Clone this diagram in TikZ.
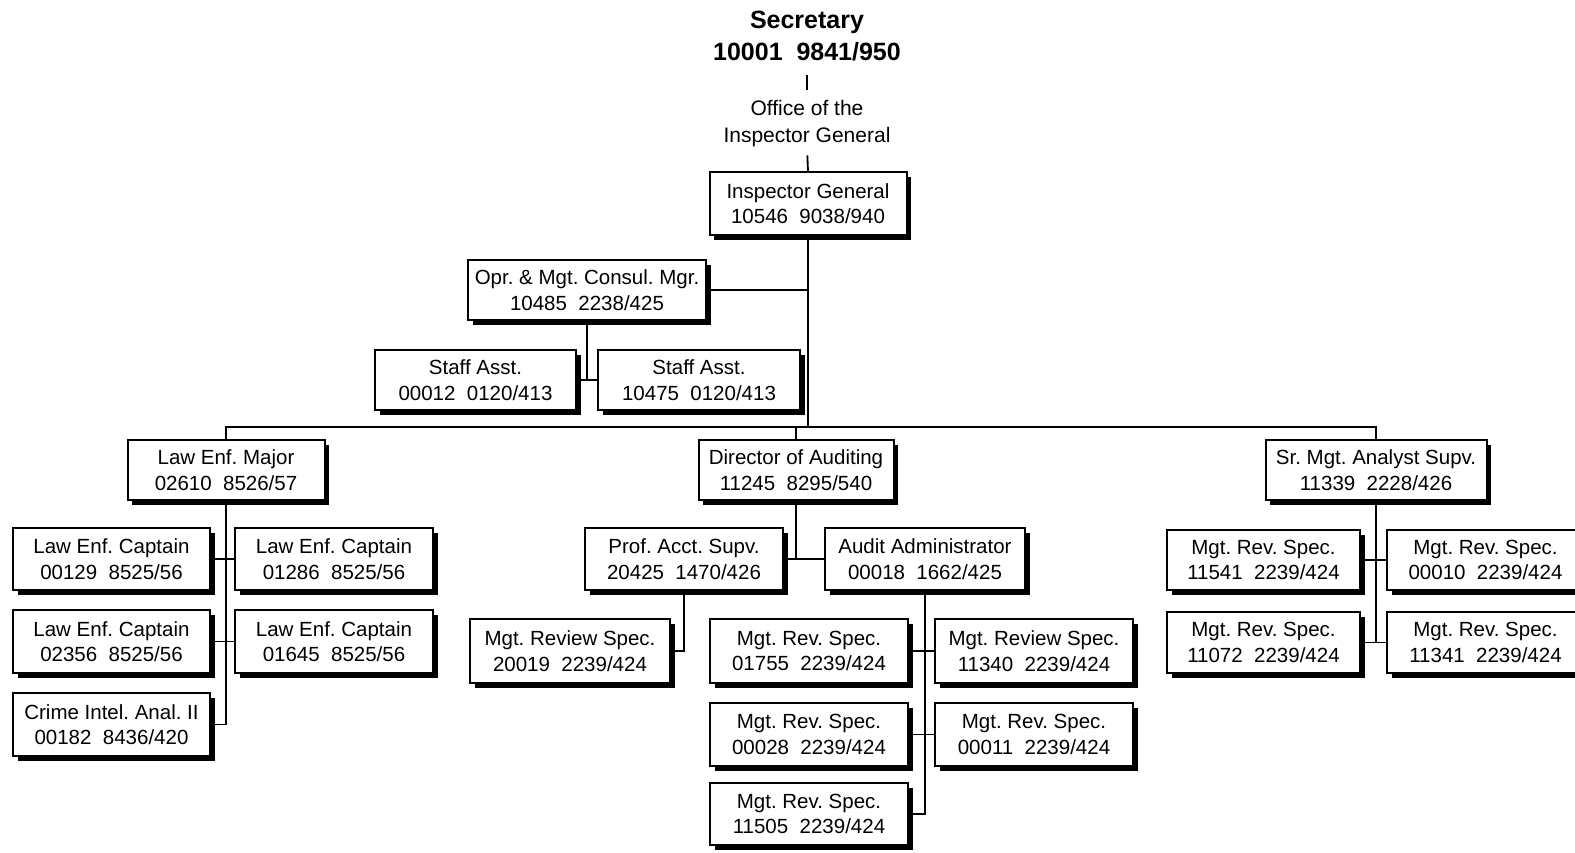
\documentclass[tikz,border=0pt]{standalone}
\usepackage{fontspec}
\setmainfont{Liberation Sans}
\usetikzlibrary{shadows}
\frenchspacing
\begin{document}
\begin{tikzpicture}[x=1pt,y=-1pt,
  post/.style={draw=black, line width=2pt, fill=white,
    minimum width=197pt, minimum height=62pt, inner sep=0pt,
    align=center, font=\frenchspacing\fontsize{20.5}{25.5}\selectfont,
    drop shadow={shadow xshift=4.5pt, shadow yshift=-4.5pt, fill=black, opacity=1}},
  link/.style={line width=1.8pt, draw=black},
  caption/.style={align=center, inner sep=0pt}]

\useasboundingbox (0,0) rectangle (1575,852);
\fill[white] (0,0) rectangle (1575,852);
\clip (0,0) rectangle (1575,852);

% heading
\node[caption, font=\bfseries\fontsize{25}{32}\selectfont] (sec) at (807,36) {Secretary\\10001\ \ 9841/950};
\node[caption, font=\fontsize{21}{27}\selectfont] (oig) at (807,124) {Office of the\\Inspector General};

% top of the office
\node[post, minimum height=63pt] (ig) at (808,203.5) {Inspector General\\10546\ \ 9038/940};
\node[post, minimum width=238pt, minimum height=60pt] (opr) at (587,290) {Opr. \& Mgt. Consul. Mgr.\\10485\ \ 2238/425};
\node[post, minimum width=201pt, minimum height=60pt] (st1) at (475.5,380) {Staff Asst.\\00012\ \ 0120/413};
\node[post, minimum width=202pt, minimum height=60pt] (st2) at (699,380) {Staff Asst.\\10475\ \ 0120/413};

% division heads
\node[post, minimum height=60pt] (maj) at (226,470) {Law Enf. Major\\02610\ \ 8526/57};
\node[post, minimum width=195pt, minimum height=60pt] (dir) at (796,470) {Director of Auditing\\11245\ \ 8295/540};
\node[post, minimum width=221pt, minimum height=60pt] (sma) at (1376,470) {Sr. Mgt. Analyst Supv.\\11339\ \ 2228/426};

% law enforcement
\node[post] (lc1) at (111.5,559) {Law Enf. Captain\\00129\ \ 8525/56};
\node[post, minimum width=198pt] (lc2) at (334,559) {Law Enf. Captain\\01286\ \ 8525/56};
\node[post, minimum height=63pt] (lc3) at (111.5,641.5) {Law Enf. Captain\\02356\ \ 8525/56};
\node[post, minimum width=198pt, minimum height=63pt] (lc4) at (334,641.5) {Law Enf. Captain\\01645\ \ 8525/56};
\node[post, minimum height=63pt] (cia) at (111.5,724.5) {Crime Intel. Anal. II\\00182\ \ 8436/420};

% auditing
\node[post, minimum width=198pt] (pas) at (684,559) {Prof. Acct. Supv.\\20425\ \ 1470/426};
\node[post, minimum width=200pt] (aad) at (925,559) {Audit Administrator\\00018\ \ 1662/425};
\node[post, minimum width=200pt, minimum height=64pt] (mr0) at (570,651) {Mgt. Review Spec.\\20019\ \ 2239/424};
\node[post, minimum width=198pt, minimum height=64pt] (mr1) at (809,651) {Mgt. Rev. Spec.\\01755\ \ 2239/424};
\node[post, minimum width=198pt, minimum height=64pt] (mr2) at (1034,651) {Mgt. Review Spec.\\11340\ \ 2239/424};
\node[post, minimum width=198pt, minimum height=63pt] (mr3) at (809,734.5) {Mgt. Rev. Spec.\\00028\ \ 2239/424};
\node[post, minimum width=198pt, minimum height=63pt] (mr4) at (1034,734.5) {Mgt. Rev. Spec.\\00011\ \ 2239/424};
\node[post, minimum width=198pt] (mr5) at (809,814) {Mgt. Rev. Spec.\\11505\ \ 2239/424};

% management analysis
\node[post, minimum width=193pt, minimum height=60pt] (ms1) at (1263.5,560) {Mgt. Rev. Spec.\\11541\ \ 2239/424};
\node[post, minimum height=60pt] (ms2) at (1485.5,560) {Mgt. Rev. Spec.\\00010\ \ 2239/424};
\node[post, minimum width=193pt, minimum height=61pt] (ms3) at (1263.5,642.5) {Mgt. Rev. Spec.\\11072\ \ 2239/424};
\node[post, minimum height=61pt] (ms4) at (1485.5,642.5) {Mgt. Rev. Spec.\\11341\ \ 2239/424};

% reporting lines
\coordinate (hub) at (808,427);
\draw[link, line width=2.4pt, shorten <=14pt, shorten >=11pt] (sec.south) -- (oig.north);
\draw[link, shorten <=8pt] (oig.south) -- (ig.north);
\draw[link] (ig.south) -- (hub);
\draw[link] (opr.east) -- (opr.east -| hub);
\draw[link] (opr.south) -- (opr.south |- st1.east);
\draw[link] (st1.east) -- (st2.west);
\draw[link] (maj.north) |- (hub) -| (sma.north);
\draw[link] (dir.north) -- (dir.north |- hub);

\draw[link] (maj.south) -- (maj.south |- cia.east) -- (cia.east);
\draw[link] (lc1.east) -- (lc2.west);
\draw[link] (lc3.east) -- (lc4.west);

\draw[link] (dir.south) -- (dir.south |- pas.east);
\draw[link] (pas.east) -- (aad.west);
\draw[link] (pas.south) |- (mr0.east);
\draw[link] (aad.south) -- (aad.south |- mr5.east) -- (mr5.east);
\draw[link] (mr1.east) -- (mr2.west);
\draw[link] (mr3.east) -- (mr4.west);

\draw[link] (sma.south) -- (sma.south |- ms3.east);
\draw[link] (ms1.east) -- (ms2.west);
\draw[link] (ms3.east) -- (ms4.west);
\end{tikzpicture}
\end{document}
